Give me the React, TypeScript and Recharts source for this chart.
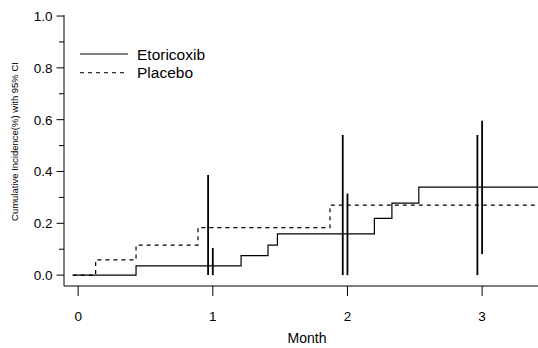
import React from 'react';
import { ComposedChart, Line, XAxis, YAxis, Legend } from 'recharts';

// step curves (month, cumulative incidence)
const etoricoxibMonths = [-0.04, 0.43, 1.21, 1.41, 1.48, 2.2, 2.33, 2.53, 3.415];
const etoricoxibIncidence = [0, 0.036, 0.075, 0.116, 0.159, 0.219, 0.278, 0.34, 0.34];
const placeboMonths = [-0.04, 0.13, 0.43, 0.89, 1.87, 3.415];
const placeboIncidence = [0, 0.059, 0.116, 0.183, 0.27, 0.27];

// 95% CI at each month
const ciMonths = [1, 2, 3];
const etoricoxibLower = [0, 0, 0.081];
const etoricoxibUpper = [0.105, 0.315, 0.596];
const placeboLower = [0, 0, 0];
const placeboUpper = [0.386, 0.541, 0.541];
const placeboDodge = -0.035;

const seriesNames = ['Etoricoxib', 'Placebo'];
const monthTicks = [0, 1, 2, 3];
const incidenceTicks = [0, 0.1, 0.2, 0.3, 0.4, 0.5, 0.6, 0.7, 0.8, 0.9, 1.0];
const labelledTicks = [0, 0.2, 0.4, 0.6, 0.8, 1.0];

const FONT = '"Liberation Sans", Arial, sans-serif';
const DASH = '4 4';

const toPoints = (xs: number[], ys: number[]) => xs.map((x, i) => ({ x, y: ys[i] }));

const etoricoxibData = toPoints(etoricoxibMonths, etoricoxibIncidence);
const placeboData = toPoints(placeboMonths, placeboIncidence);

const ciSegments = [
  ...ciMonths.map((m, i) => ({
    key: `pl-${i}`,
    data: [
      { x: m + placeboDodge, y: placeboLower[i] },
      { x: m + placeboDodge, y: placeboUpper[i] },
    ],
  })),
  ...ciMonths.map((m, i) => ({
    key: `et-${i}`,
    data: [
      { x: m, y: etoricoxibLower[i] },
      { x: m, y: etoricoxibUpper[i] },
    ],
  })),
];

function YTick(props: any) {
  const { x, y, payload } = props;
  const v = Math.round(payload.value * 10) / 10;
  const major = labelledTicks.some((t) => Math.abs(t - v) < 1e-6);
  const axisX = x + 5 + 7;
  return (
    <g>
      <line x1={axisX - (major ? 7.5 : 5)} x2={axisX} y1={y} y2={y} stroke="#000" strokeWidth={1} />
      {major && (
        <text x={x + 0.5} y={y} dy="0.36em" textAnchor="end" fontSize={13.5} fontFamily={FONT} fill="#000">
          {v.toFixed(1)}
        </text>
      )}
    </g>
  );
}

function LegendBox() {
  return (
    <svg width={160} height={40}>
      {seriesNames.map((name, i) => (
        <g key={name} transform={`translate(0, ${i * 18.7})`}>
          <line x1={0} x2={48} y1={9} y2={9} stroke="#000" strokeWidth={1} strokeDasharray={i === 1 ? DASH : undefined} />
          <text x={57} y={9} dy="0.36em" fontSize={15.5} fontFamily={FONT} fill="#000">
            {name}
          </text>
        </g>
      ))}
    </svg>
  );
}

export default function App() {
  return (
    <div style={{ position: 'absolute', left: 0, top: 0, background: '#fff' }}>
      <ComposedChart width={538} height={348} margin={{ top: 15, right: 0, bottom: 0, left: 0 }}>
        <XAxis
          type="number"
          dataKey="x"
          domain={[-0.105, 3.415]}
          allowDataOverflow
          ticks={monthTicks}
          height={62}
          tickSize={10}
          tickMargin={15}
          stroke="#000"
          tick={{ fontSize: 13.5, fontFamily: FONT, fill: '#000' }}
          label={{ value: 'Month', position: 'insideBottom', offset: 5, dx: 6, fontSize: 14, fontFamily: FONT, fill: '#000' }}
        />
        <YAxis
          type="number"
          dataKey="y"
          domain={[-0.042, 1.004]}
          allowDataOverflow
          ticks={incidenceTicks}
          width={64}
          tickSize={7}
          tickMargin={5}
          tickLine={false}
          stroke="#000"
          tick={<YTick />}
          label={{
            value: 'Cumulative Incidence(%) with 95% CI',
            angle: -90,
            position: 'center',
            dx: -17,
            dy: -9,
            fontSize: 9.5,
            fontFamily: FONT,
            fill: '#000',
          }}
        />
        <Legend
          layout="horizontal"
          verticalAlign="middle"
          align="center"
          content={<LegendBox />}
          wrapperStyle={{ left: 80, top: 45, width: 160, height: 40 }}
        />
        <Line
          data={etoricoxibData}
          dataKey="y"
          name="Etoricoxib"
          type="stepAfter"
          stroke="#000"
          strokeWidth={1.2}
          dot={false}
          activeDot={false}
          isAnimationActive={false}
        />
        <Line
          data={placeboData}
          dataKey="y"
          name="Placebo"
          type="stepAfter"
          stroke="#000"
          strokeWidth={1.2}
          strokeDasharray={DASH}
          dot={false}
          activeDot={false}
          isAnimationActive={false}
        />
        {ciSegments.map((s) => (
          <Line
            key={s.key}
            data={s.data}
            dataKey="y"
            type="linear"
            stroke="#000"
            strokeWidth={1.8}
            dot={false}
            activeDot={false}
            legendType="none"
            isAnimationActive={false}
          />
        ))}
      </ComposedChart>
    </div>
  );
}
